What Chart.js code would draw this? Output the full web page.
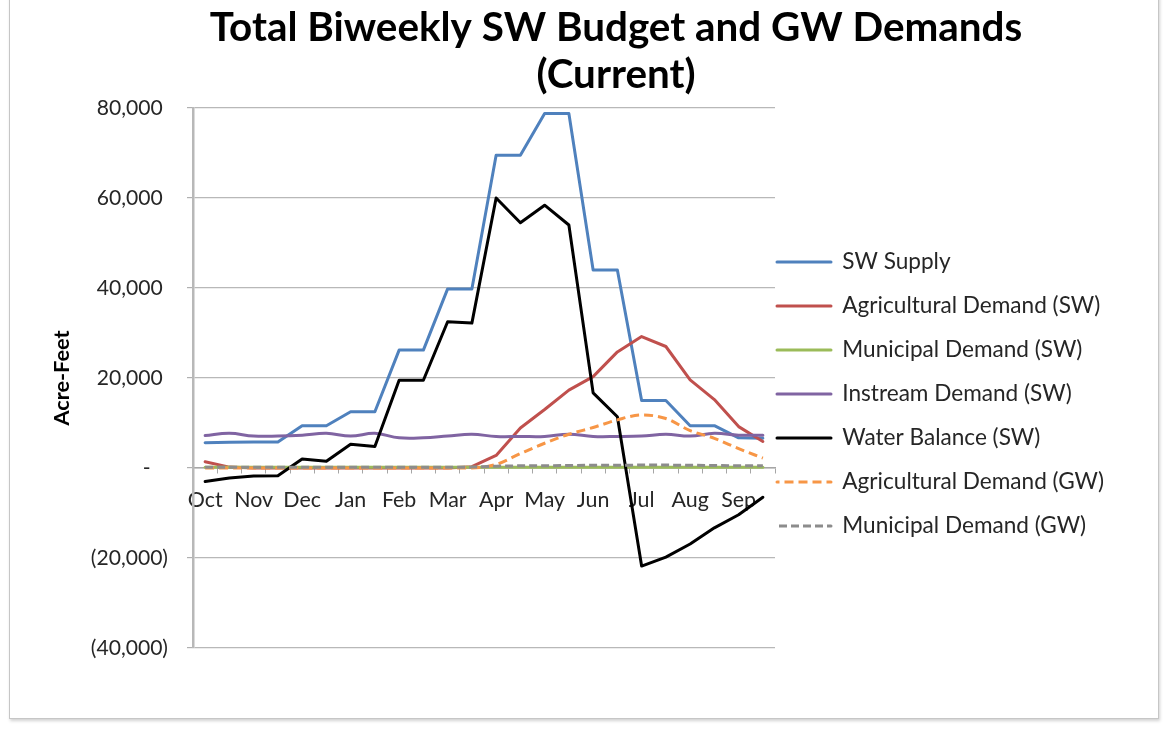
<!DOCTYPE html>
<html>
<head>
<meta charset="utf-8">
<script src="https://cdn.jsdelivr.net/npm/chart.js@4"></script>
<style>
html,body{margin:0;padding:0;background:#fff;}
#wrap{position:relative;width:1163px;height:730px;overflow:hidden;}
#frame{position:absolute;left:9px;top:-5px;width:1148px;height:722px;border:1px solid #c6c6c6;box-shadow:1px 2px 3px rgba(0,0,0,0.18);}
canvas{position:absolute;left:0;top:0;}
</style>
</head>
<body>
<div id="wrap">
<div id="frame"></div>
<canvas id="c" width="1163" height="730"></canvas>
</div>
<script>
// ---- data (biweekly, Oct..Sep) ----
const categories = ['Oct','','Nov','','Dec','','Jan','','Feb','','Mar','','Apr','','May','','Jun','','Jul','','Aug','','Sep',''];
const seriesLabels = ['SW Supply','Agricultural Demand (SW)','Municipal Demand (SW)','Instream Demand (SW)','Water Balance (SW)','Agricultural Demand (GW)','Municipal Demand (GW)'];
const swSupply        = [5600,5700,5800,5800,9400,9400,12500,12500,26200,26200,39800,39800,69500,69500,78800,78800,44000,44000,15000,15000,9400,9400,6700,6600];
const agDemandSW      = [1400,200,0,0,0,0,0,0,0,0,0,300,2800,8900,13000,17300,20300,25800,29200,27000,19600,15200,9200,5900];
const muniDemandSW    = [150,150,150,150,150,150,150,150,150,150,150,150,150,150,150,150,150,150,150,150,150,150,150,150];
const instreamDemandSW= [7200,7700,7100,7100,7300,7700,7100,7700,6700,6700,7100,7500,7000,7000,7000,7500,7000,7000,7100,7500,7100,7700,7300,7300];
const waterBalanceSW  = [-3000,-2200,-1800,-1700,2000,1500,5300,4800,19500,19500,32500,32200,60000,54500,58400,54000,16700,11400,-21800,-19800,-16900,-13300,-10400,-6500];
const agDemandGW      = [0,0,0,0,0,0,0,0,0,0,0,0,800,3200,5500,7500,9000,10700,11800,11000,8300,6600,4300,2200];
const muniDemandGW    = [150,150,150,150,150,150,150,150,150,150,150,200,400,500,500,550,600,600,650,650,600,550,500,500];
const yTickValues     = [-40000,-20000,0,20000,40000,60000,80000];
const titleLines      = ['Total Biweekly SW Budget and GW Demands','(Current)'];
const yAxisTitle      = 'Acre-Feet';

// ---- styling / layout ----
const FONT = 'Lato';
function fitPx(text, weight, target){
  const c = document.createElement('canvas').getContext('2d');
  c.font = weight + ' 100px ' + FONT;
  return Math.round(100 * target / c.measureText(text).width * 10) / 10;
}
const titleSize  = fitPx(titleLines[0], 'bold', 812);
const tickSize   = fitPx('80,000', 'normal', 66);
const xTickSize  = fitPx('May', 'normal', 41);
const legendSize = fitPx('Agricultural Demand (SW)', 'normal', 258);
const yTitleSize = fitPx(yAxisTitle, 'bold', 95);

const TITLE_CX = 616, TITLE_Y0 = 28, TITLE_LH = 47;
const LEGEND_W = 336;
const LEG_BOX_W = 54;
const PAD_T = 108, PAD_B = 82, PAD_L = 40;
const PAD_R = 388 - LEGEND_W;
const Y_AXIS_W = 193 - PAD_L;
const Y_TITLE_PAD = 62 - PAD_L - yTitleSize * 0.6;
const LEG_PAD = 2;
const LEG_TITLE_PAD = 262 - PAD_T - LEG_PAD - 10 - legendSize / 2;

const colors = ['#4F81BD','#C0504D','#9BBB59','#8064A2','#000000','#F79646','#8C8C8C'];
const dashes = [[],[],[],[],[],[9,5],[8,4]];
const tensions = [0,0,0,0.4,0,0.4,0];
const values = [swSupply, agDemandSW, muniDemandSW, instreamDemandSW, waterBalanceSW, agDemandGW, muniDemandGW];

const datasets = values.map((v, i) => ({
  label: seriesLabels[i],
  data: v,
  borderColor: colors[i],
  backgroundColor: colors[i],
  borderWidth: 3,
  borderDash: dashes[i],
  borderJoinStyle: 'round',
  borderCapStyle: dashes[i].length ? 'butt' : 'round',
  tension: tensions[i],
  cubicInterpolationMode: i === 5 ? 'monotone' : 'default',
  pointRadius: 0,
  pointHoverRadius: 0,
  fill: false,
  order: 6 - i
}));

function fmt(v){
  if (v === 0) return '-\u2007\u2005';
  const s = Math.abs(v).toLocaleString('en-US');
  return v < 0 ? '(' + s + ')' : s + '\u2005';
}

// two-line chart title centred where the reference puts it
const titlePlugin = {
  id: 'twoLineTitle',
  afterDraw(ch) {
    const ctx = ch.ctx;
    ctx.save();
    ctx.font = 'bold ' + titleSize + 'px ' + FONT;
    ctx.fillStyle = '#000';
    ctx.textAlign = 'center';
    ctx.textBaseline = 'middle';
    titleLines.forEach((t, i) => ctx.fillText(t, TITLE_CX, TITLE_Y0 + i * TITLE_LH));
    ctx.restore();
  }
};

const chart = new Chart(document.getElementById('c'), {
  type: 'line',
  data: { labels: categories, datasets },
  plugins: [titlePlugin],
  options: {
    responsive: false,
    animation: false,
    devicePixelRatio: 1,
    layout: { padding: { top: PAD_T, bottom: PAD_B, left: PAD_L, right: PAD_R } },
    plugins: {
      tooltip: { enabled: false },
      title: { display: false },
      legend: {
        display: true, position: 'right', fullSize: false, align: 'start', maxWidth: LEGEND_W,
        title: { display: true, text: '', font: { size: 10, lineHeight: '10px' }, padding: { top: LEG_TITLE_PAD, bottom: 0 } },
        labels: {
          usePointStyle: false, boxWidth: LEG_BOX_W, boxHeight: 0, padding: LEG_PAD,
          color: '#262626',
          font: { family: FONT, size: legendSize, lineHeight: (44 - LEG_PAD) + 'px' },
          generateLabels(ch) {
            const items = Chart.defaults.plugins.legend.labels.generateLabels(ch);
            items.sort((a, b) => a.datasetIndex - b.datasetIndex);
            items.forEach(it => {
              it.text = [it.text];
              const d = dashes[it.datasetIndex];
              // zero-height box is stroked out and back: align the dash phase so both passes coincide
              it.lineDashOffset = d.length ? d[0] / 2 - LEG_BOX_W : 0;
              it.lineCap = 'butt';
            });
            return items;
          }
        }
      }
    },
    scales: {
      x: {
        type: 'category',
        position: { y: 0 },
        offset: true,
        grid: { display: true, drawOnChartArea: false, drawTicks: true, tickLength: 5, offset: true, color: '#a6a6a6', tickColor: '#a6a6a6' },
        border: { display: true, color: '#a6a6a6', width: 1.5 },
        ticks: { autoSkip: false, maxRotation: 0, minRotation: 0, padding: 14, color: '#262626', font: { family: FONT, size: xTickSize } }
      },
      y: {
        min: -40000, max: 80000,
        afterBuildTicks(s) { s.ticks = yTickValues.map(v => ({ value: v })); },
        afterFit(s) { s.width = Y_AXIS_W; },
        grid: { color: '#b8b8b8', lineWidth: 1.2, drawTicks: true, tickLength: 6, tickColor: '#b0b0b0' },
        border: { display: true, color: '#b8b8b8', width: 2.5 },
        ticks: { padding: 19, color: '#262626', font: { family: FONT, size: tickSize }, callback: fmt },
        title: { display: true, text: yAxisTitle, color: '#000', font: { family: FONT, size: yTitleSize, weight: 'bold' }, padding: { top: Y_TITLE_PAD, bottom: 0 } }
      }
    }
  }
});
</script>
</body>
</html>
